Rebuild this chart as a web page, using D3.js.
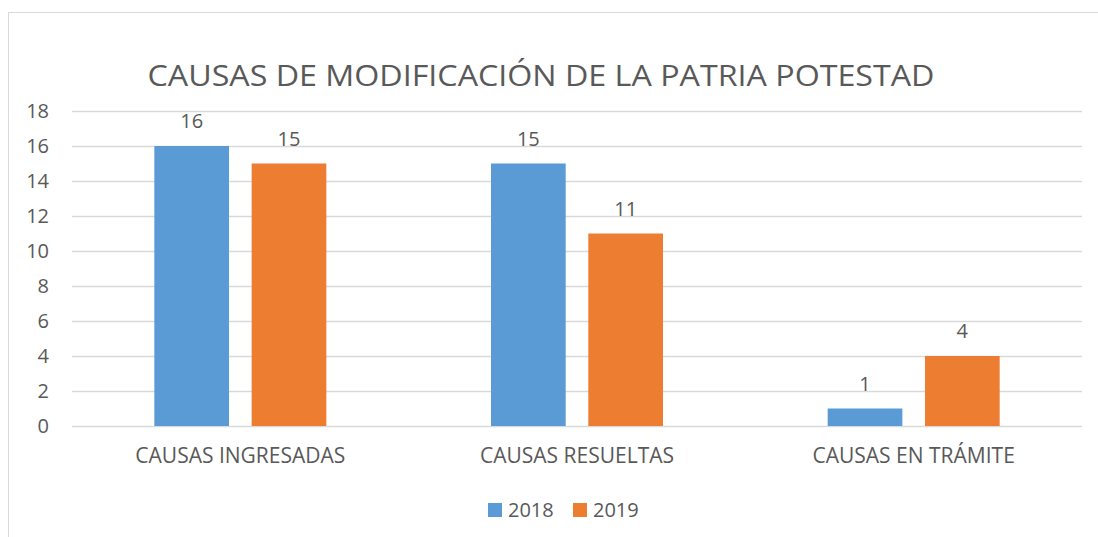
<!DOCTYPE html>
<html>
<head>
<meta charset="utf-8">
<script src="https://cdn.jsdelivr.net/npm/d3@7"></script>
<style>
  body { margin: 0; background: #fff; }
  #chart { width: 1098px; height: 537px; }
  text { font-family: "Open Sans", "Liberation Sans", sans-serif; fill: #595959; }
</style>
</head>
<body>
<div id="chart"></div>
<script>
const categories = ["CAUSAS INGRESADAS", "CAUSAS RESUELTAS", "CAUSAS EN TRÁMITE"];
const seriesNames = ["2018", "2019"];
const values2018 = [16, 15, 1];
const values2019 = [15, 11, 4];
const yTicks = [0, 2, 4, 6, 8, 10, 12, 14, 16, 18];
const colors = ["#5B9BD5", "#ED7D31"];

function renderChart() {
  const width = 1098, height = 537;
  const plot = { left: 72, right: 1082, top: 111, bottom: 426 };

  const svg = d3.select("#chart").append("svg")
    .attr("width", width)
    .attr("height", height);

  // outer chart border (cropped on right/bottom)
  svg.append("rect")
    .attr("x", 8.5).attr("y", 12.5)
    .attr("width", 1200).attr("height", 600)
    .attr("fill", "none")
    .attr("stroke", "#D9D9D9");

  svg.append("text")
    .attr("x", 541).attr("y", 86)
    .attr("text-anchor", "middle")
    .attr("font-size", "30px")
    .attr("textLength", 787)
    .attr("lengthAdjust", "spacingAndGlyphs")
    .text("CAUSAS DE MODIFICACIÓN DE LA PATRIA POTESTAD");

  const y = d3.scaleLinear().domain([0, 18]).range([plot.bottom, plot.top]);
  const x = d3.scaleBand().domain(categories).range([plot.left, plot.right]);
  const xs = d3.scaleBand().domain(seriesNames)
    .range([x.bandwidth() / 2 - 86, x.bandwidth() / 2 + 86])
    .paddingInner(20 / 172 * 2);

  // gridlines
  svg.append("g")
    .selectAll("line")
    .data(yTicks)
    .enter()
    .append("line")
    .attr("x1", plot.left).attr("x2", plot.right)
    .attr("y1", d => Math.round(y(d)) + 0.5)
    .attr("y2", d => Math.round(y(d)) + 0.5)
    .attr("stroke", "#D9D9D9")
    .attr("stroke-width", 1.3);

  // y axis labels
  const yAxis = svg.append("g")
    .attr("transform", `translate(${plot.left},0)`)
    .call(d3.axisLeft(y).tickValues(yTicks).tickSize(0).tickPadding(23));
  yAxis.select(".domain").remove();
  yAxis.selectAll("text")
    .attr("font-size", "20px")
    .attr("fill", "#595959")
    .attr("font-family", "Open Sans, Liberation Sans, sans-serif");

  const rows = categories.map((c, i) => ({ cat: c, vals: [values2018[i], values2019[i]] }));

  const groups = svg.append("g")
    .selectAll("g")
    .data(rows)
    .enter()
    .append("g")
    .attr("transform", d => `translate(${x(d.cat)},0)`);

  const bars = groups.selectAll("g")
    .data(d => d.vals.map((v, j) => ({ key: seriesNames[j], value: v, idx: j })))
    .enter();

  bars.append("rect")
    .attr("x", d => xs(d.key))
    .attr("y", d => y(d.value))
    .attr("width", xs.bandwidth())
    .attr("height", d => y(0) - y(d.value))
    .attr("fill", d => colors[d.idx]);

  bars.append("text")
    .attr("x", d => xs(d.key) + xs.bandwidth() / 2)
    .attr("y", d => y(d.value) - 18)
    .attr("text-anchor", "middle")
    .attr("font-size", "20px")
    .text(d => d.value);

  // category labels
  const xAxis = svg.append("g")
    .attr("transform", `translate(0,${plot.bottom})`)
    .call(d3.axisBottom(x).tickSize(0).tickPadding(22));
  xAxis.select(".domain").remove();
  xAxis.selectAll("text")
    .attr("font-size", "21px")
    .attr("fill", "#595959")
    .attr("font-family", "Open Sans, Liberation Sans, sans-serif");

  // legend
  const legend = svg.append("g");
  const legendX = [488, 573];
  seriesNames.forEach((s, i) => {
    legend.append("rect")
      .attr("x", legendX[i]).attr("y", 503)
      .attr("width", 14).attr("height", 14)
      .attr("fill", colors[i]);
    legend.append("text")
      .attr("x", legendX[i] + 20).attr("y", 517)
      .attr("font-size", "20px")
      .text(s);
  });
}

renderChart();
</script>
</body>
</html>
